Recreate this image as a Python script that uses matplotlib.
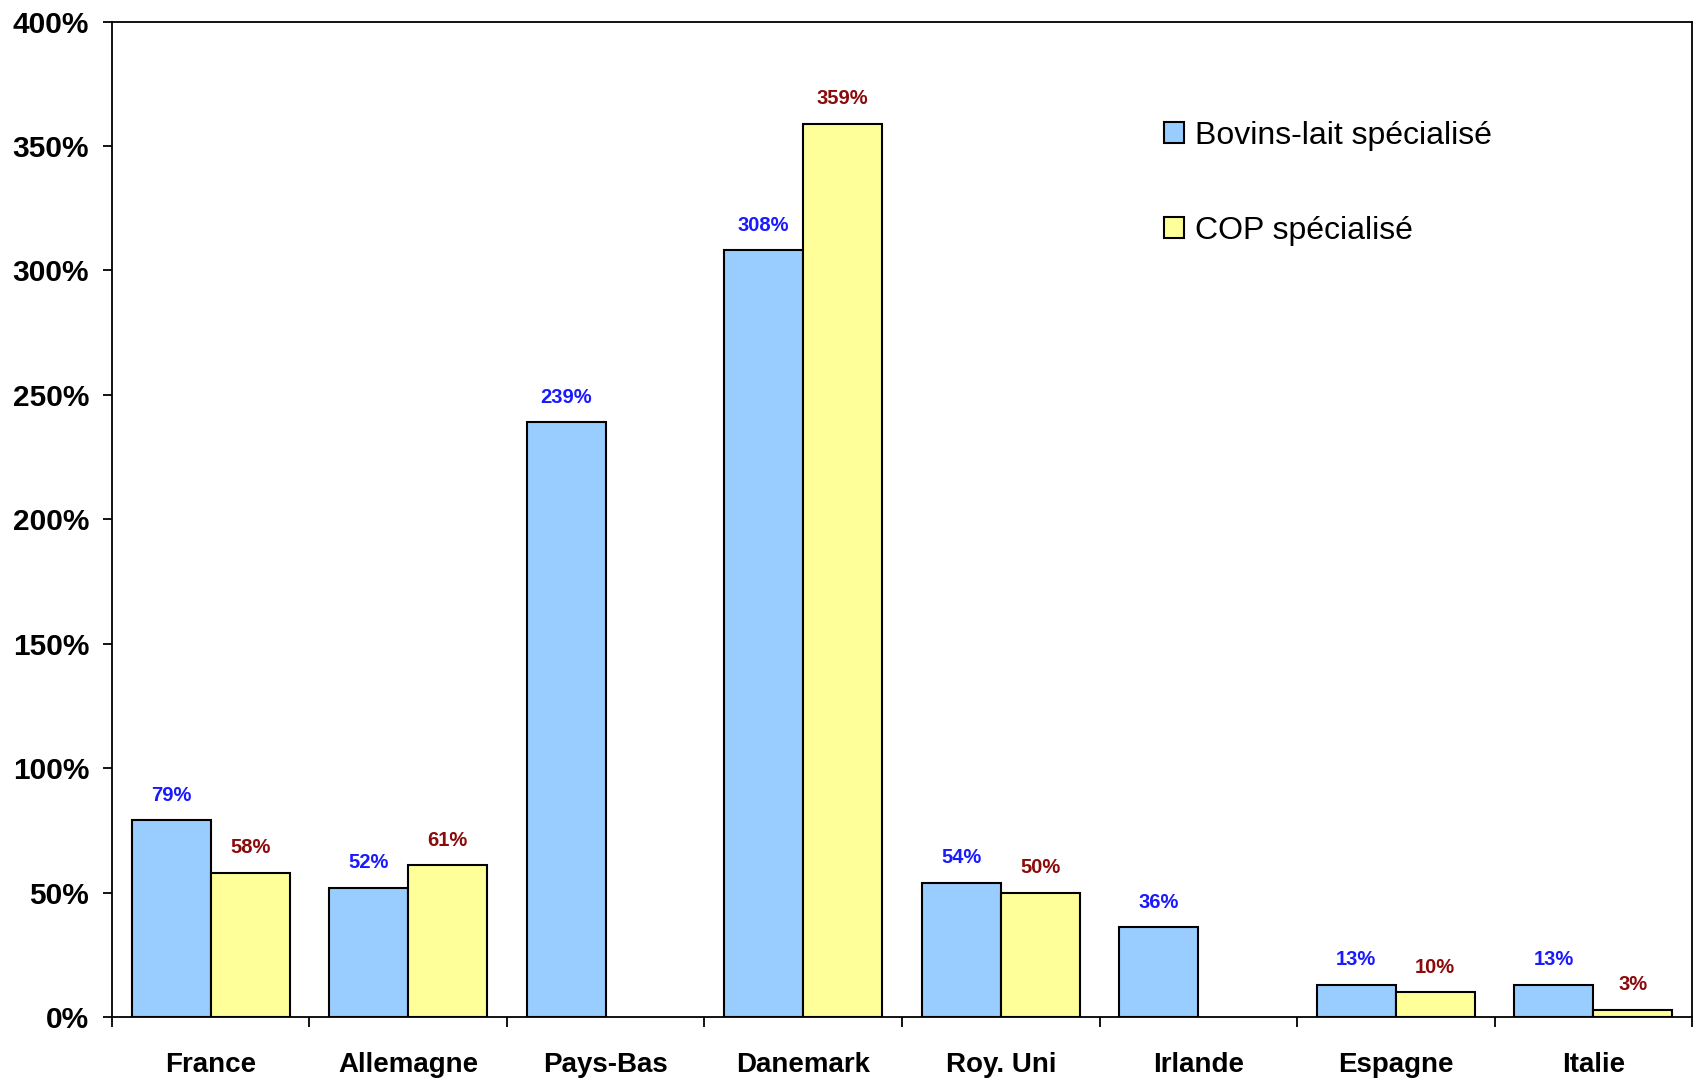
import numpy as np
import matplotlib.pyplot as plt
from matplotlib.ticker import FixedLocator, PercentFormatter

pays = ["France", "Allemagne", "Pays-Bas", "Danemark", "Roy. Uni", "Irlande", "Espagne", "Italie"]
bovins_lait = [79, 52, 239, 308, 54, 36, 13, 13]
cop = [58, 61, np.nan, 359, 50, np.nan, 10, 3]
yticks = [0, 50, 100, 150, 200, 250, 300, 350, 400]

plt.rcParams['font.family'] = ['Liberation Sans', 'DejaVu Sans']

fig = plt.figure(figsize=(16.99, 10.81), dpi=100)
ax = fig.add_axes([0.0659, 0.0592, 0.9300, 0.9209])

x = np.arange(len(pays))
w = 0.4
b1 = ax.bar(x - w / 2, bovins_lait, w, color='#99CCFF', edgecolor='black', linewidth=1.5,
            label='Bovins-lait spécialisé', zorder=2)
b2 = ax.bar(x + w / 2, cop, w, color='#FFFF99', edgecolor='black', linewidth=1.5,
            label='COP spécialisé', zorder=2)

for xi, v in zip(x - w / 2, bovins_lait):
    if not np.isnan(v):
        ax.annotate(f"{v:.0f}%", (xi, v), xytext=(0, 11), textcoords='offset points',
                    ha='center', va='bottom', fontsize=14.5, fontweight='bold', color='#1a1aff')
for xi, v in zip(x + w / 2, cop):
    if not np.isnan(v):
        ax.annotate(f"{v:.0f}%", (xi, v), xytext=(0, 11), textcoords='offset points',
                    ha='center', va='bottom', fontsize=14.5, fontweight='bold', color='#8b0a0a')

ax.set_xlim(-0.5, len(pays) - 0.5)
ax.set_ylim(0, 400)
ax.set_yticks(yticks)
ax.yaxis.set_major_formatter(PercentFormatter(decimals=0))

ax.set_xticks(x)
ax.set_xticklabels(pays, fontsize=20, fontweight='bold')
ax.xaxis.set_minor_locator(FixedLocator(np.arange(-0.5, len(pays), 1.0)))
ax.tick_params(axis='x', which='major', length=0, pad=25)
ax.tick_params(axis='x', which='minor', direction='out', length=7, width=1.3)
ax.tick_params(axis='y', direction='out', length=6.5, width=1.3, pad=10, labelsize=21.5)
for lbl in ax.get_yticklabels():
    lbl.set_fontweight('bold')

for s in ax.spines.values():
    s.set_linewidth(1.3)

ax.legend(loc='upper left', bbox_to_anchor=(0.666, 0.9), frameon=False, fontsize=23,
          borderaxespad=0, borderpad=0, handlelength=0.62, handleheight=0.62,
          handletextpad=0.33, labelspacing=2.02)

fig.savefig('out.png', dpi=100)
